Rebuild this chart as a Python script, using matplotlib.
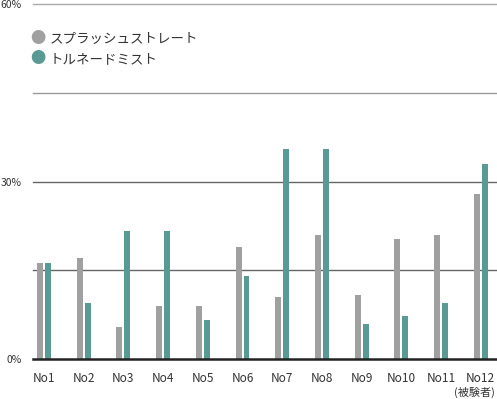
import matplotlib.pyplot as plt
import numpy as np

plt.rcParams['font.family'] = ['Noto Sans CJK JP', 'DejaVu Sans']

labels = ['No1', 'No2', 'No3', 'No4', 'No5', 'No6', 'No7', 'No8', 'No9', 'No10', 'No11', 'No12']
splash = [16.2, 17.1, 5.4, 8.9, 8.9, 19.0, 10.4, 20.9, 10.8, 20.3, 20.9, 27.9]
tornado = [16.2, 9.5, 21.6, 21.6, 6.6, 14.0, 35.5, 35.5, 6.0, 7.2, 9.5, 33.0]
series_names = ['スプラッシュストレート', 'トルネードミスト']
gray = '#a0a0a0'
teal = '#5a9a94'

fig = plt.figure(figsize=(4.97, 3.99), dpi=100)
ax = fig.add_axes([33/497, 1 - 359/399, 1 - 33/497, 355/399])

x = np.arange(len(labels))
w = 0.15
ax.bar(x - 0.1, splash, width=w, color=gray, zorder=3)
ax.bar(x + 0.1, tornado, width=w, color=teal, zorder=3)

ax.set_xlim(-0.277, 11.41)
ax.set_ylim(0, 60)

for v, c in [(15, '#666666'), (30, '#666666'), (45, '#999999'), (60, '#aaaaaa')]:
    ax.axhline(v, color=c, lw=1.0, zorder=1, clip_on=False)
ax.axhline(0, color='#222222', lw=1.8, zorder=4, clip_on=False)

for s in ax.spines.values():
    s.set_visible(False)
ax.set_yticks([0, 30, 60])
ax.set_yticklabels(['0%', '30%', '60%'], fontsize=7.5, color='#333333')
ax.tick_params(axis='y', length=0, pad=8)
ax.set_xticks(x)
ax.set_xticklabels(labels, fontsize=8.5, color='#333333')
ax.tick_params(axis='x', length=0, pad=9)
fig.text(474/497, 1 - 392/399, '(被験者)', ha='center', va='center', fontsize=8, color='#333333')

# legend
for i, (name, c) in enumerate(zip(series_names, [gray, teal])):
    fy = 1 - (39 + 20 * i) / 399
    fig.text(38/497, fy, '●', color=c, fontsize=11, ha='center', va='center')
    fig.text(50/497, fy, name, color='#333333', fontsize=9.7, ha='left', va='center')

fig.savefig('out.png', dpi=100)
